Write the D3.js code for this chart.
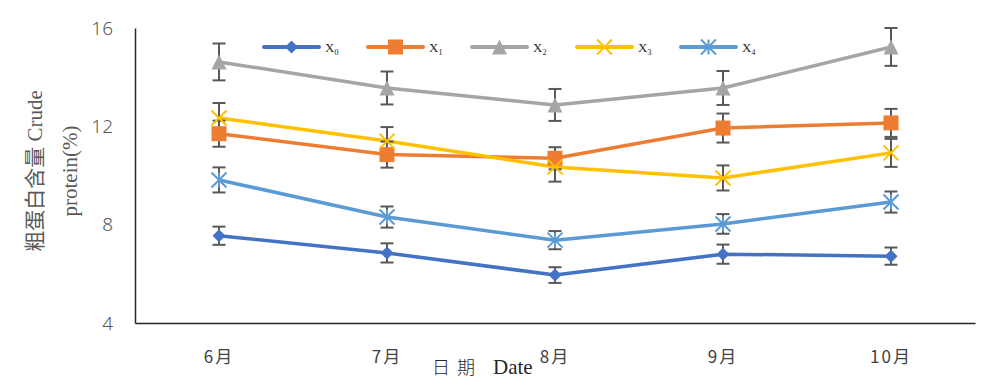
<!DOCTYPE html>
<html><head><meta charset="utf-8">
<script src="https://cdn.jsdelivr.net/npm/d3@7"></script>
<style>body{margin:0;background:#fff;}svg{display:block;}</style>
</head><body>
<svg id="c" width="1000" height="388"></svg>
<script>
const categories = ["6月","7月","8月","9月","10月"];
const seriesNames = ["X0","X1","X2","X3","X4"];
const x0Values = [7.55, 6.85, 5.95, 6.80, 6.72];
const x1Values = [11.70, 10.85, 10.70, 11.93, 12.14];
const x2Values = [14.62, 13.56, 12.87, 13.56, 15.23];
const x3Values = [12.34, 11.40, 10.35, 9.90, 10.92];
const x4Values = [9.82, 8.31, 7.37, 8.03, 8.92];
const x0Err = [0.37, 0.39, 0.32, 0.39, 0.35];
const x1Err = [0.53, 0.53, 0.45, 0.59, 0.57];
const x2Err = [0.75, 0.67, 0.65, 0.69, 0.77];
const x3Err = [0.61, 0.57, 0.60, 0.51, 0.57];
const x4Err = [0.51, 0.43, 0.37, 0.40, 0.43];
const yTicks = [4, 8, 12, 16];

(function(){
const colors = ["#4472C4","#ED7D31","#A5A5A5","#FFC000","#5B9BD5"];
const markers = ["diamond","square","triangle","x","asterisk"];
const series = seriesNames.map((n,i)=>({name:n, values:[x0Values,x1Values,x2Values,x3Values,x4Values][i], err:[x0Err,x1Err,x2Err,x3Err,x4Err][i]}));

const svg = d3.select("#c");
const mLeft = 135, mRight = 975, mTop = 28, mBottom = 323;
const x = d3.scaleBand().domain(categories).range([mLeft, mRight]).padding(0);
const y = d3.scaleLinear().domain([4, 16]).range([mBottom, mTop]);
const cx = c => x(c) + x.bandwidth()/2;

// axes
const yAxis = svg.append("g").attr("transform", `translate(${mLeft},0)`)
  .call(d3.axisLeft(y).tickValues(yTicks).tickSize(0).tickPadding(22).tickFormat(d3.format("d")));
yAxis.select(".domain").attr("stroke","#262626").attr("stroke-width",1.5);
yAxis.selectAll("text").attr("fill","#595959").style("font-family","'Noto Sans','DejaVu Sans',sans-serif").style("font-size","19px").style("font-weight","300");

const xAxis = svg.append("g").attr("transform", `translate(0,${mBottom})`)
  .call(d3.axisBottom(x).tickSize(0));
xAxis.select(".domain").attr("stroke","#262626").attr("stroke-width",1.5);
xAxis.selectAll("text").attr("y",40).attr("dy","0").attr("fill","#404040")
  .style("font-family","'Noto Sans CJK SC',sans-serif").style("font-size","17px").style("letter-spacing","2px");

// axis titles
const yt = svg.append("text").attr("transform","translate(42,171) rotate(-90)")
  .attr("text-anchor","middle").attr("fill","#595959")
  .style("font-family","'Liberation Serif','Noto Sans CJK SC',serif").style("font-size","21px");
yt.append("tspan").attr("x",0).attr("dy",0).text("粗蛋白含量 Crude");
yt.append("tspan").attr("x",0).attr("dy",35).text("protein(%)");

const xt = svg.append("g").attr("fill","#262626");
xt.append("text").attr("x",432).attr("y",374).style("font-family","'Noto Sans CJK SC',sans-serif").style("font-size","18px").style("font-weight","300").text("日");
xt.append("text").attr("x",457).attr("y",374).style("font-family","'Noto Sans CJK SC',sans-serif").style("font-size","18px").style("font-weight","300").text("期");
xt.append("text").attr("x",493).attr("y",374).style("font-family","'Liberation Serif',serif").style("font-size","21px").text("Date");

function drawMarker(g, type, color, size){
  const s = size;
  if(type==="diamond"){
    g.append("path").attr("d",`M0,${-s/2}L${s/2},0L0,${s/2}L${-s/2},0Z`).attr("fill",color);
  } else if(type==="square"){
    g.append("rect").attr("x",-s/2).attr("y",-s/2).attr("width",s).attr("height",s).attr("fill",color);
  } else if(type==="triangle"){
    g.append("path").attr("d",`M0,${-s/2}L${s/2},${s/2}L${-s/2},${s/2}Z`).attr("fill",color);
  } else if(type==="x"){
    g.append("path").attr("d",`M${-s/2},${-s/2}L${s/2},${s/2}M${s/2},${-s/2}L${-s/2},${s/2}`).attr("stroke",color).attr("stroke-width",2);
  } else if(type==="asterisk"){
    g.append("path").attr("d",`M${-s/2},${-s/2}L${s/2},${s/2}M${s/2},${-s/2}L${-s/2},${s/2}M0,${-s/2}L0,${s/2}`).attr("stroke",color).attr("stroke-width",2);
  }
}

const line = d3.line().x((d,i)=>cx(categories[i])).y(d=>y(d));
const markerSize = [13,15,15,15,15];

series.forEach((s,si)=>{
  svg.append("path").datum(s.values).attr("d",line).attr("fill","none")
    .attr("stroke",colors[si]).attr("stroke-width",3.5).attr("stroke-linejoin","round");
});
// error bars
series.forEach((s,si)=>{
  const g = svg.append("g");
  s.values.forEach((v,i)=>{
    const px = cx(categories[i]);
    const y1 = y(v + s.err[i]), y2 = y(v - s.err[i]);
    g.append("line").attr("x1",px).attr("x2",px).attr("y1",y1).attr("y2",y2).attr("stroke","#595959").attr("stroke-width",2);
    g.append("line").attr("x1",px-6.5).attr("x2",px+6.5).attr("y1",y1).attr("y2",y1).attr("stroke","#595959").attr("stroke-width",2);
    g.append("line").attr("x1",px-6.5).attr("x2",px+6.5).attr("y1",y2).attr("y2",y2).attr("stroke","#595959").attr("stroke-width",2);
  });
});
series.forEach((s,si)=>{
  s.values.forEach((v,i)=>{
    const mg = svg.append("g").attr("transform",`translate(${cx(categories[i])},${y(v)})`);
    drawMarker(mg, markers[si], colors[si], markerSize[si]);
  });
});

// legend
const legendX = [264, 368, 472, 577, 681];
series.forEach((s,si)=>{
  const lg = svg.append("g").attr("transform",`translate(${legendX[si]},47)`);
  lg.append("line").attr("x1",0).attr("x2",55).attr("y1",0).attr("y2",0).attr("stroke",colors[si]).attr("stroke-width",4).attr("stroke-linecap","round");
  const mg = lg.append("g").attr("transform","translate(27.5,0)");
  drawMarker(mg, markers[si], colors[si], markerSize[si]);
  const t = lg.append("text").attr("x",61).attr("y",5).attr("fill","#262626")
    .style("font-family","'Liberation Serif',serif").style("font-size","13px");
  t.append("tspan").text(s.name[0]);
  t.append("tspan").attr("dy",3).style("font-size","8px").text(s.name.slice(1));
});
})();
</script>
</body></html>
